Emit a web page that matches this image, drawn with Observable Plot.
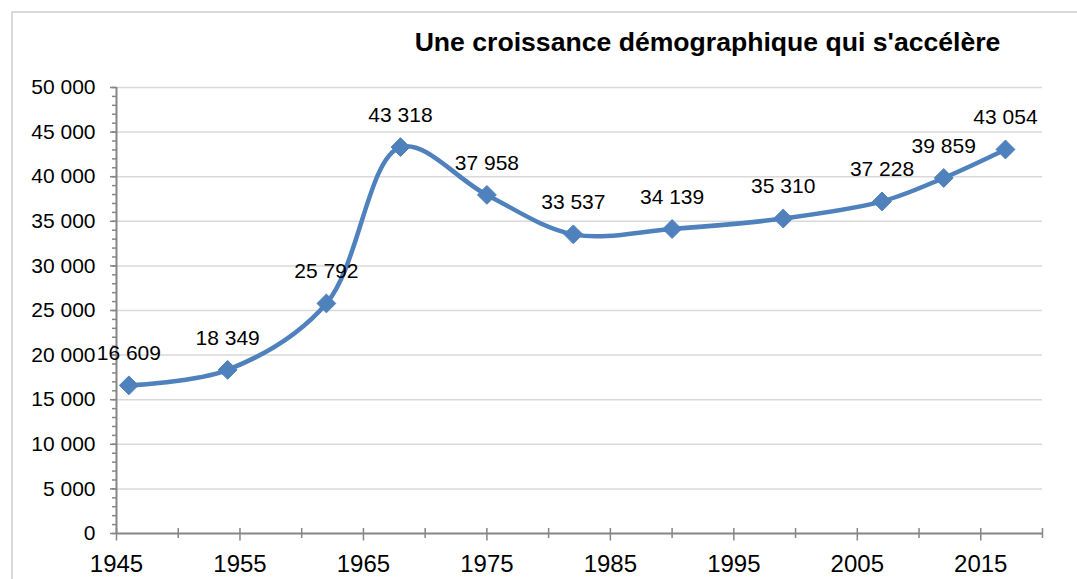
<!DOCTYPE html>
<html>
<head>
<meta charset="utf-8">
<script src="https://cdn.jsdelivr.net/npm/d3@7"></script>
<script src="https://cdn.jsdelivr.net/npm/@observablehq/plot@0.6"></script>
<style>
  html, body { margin: 0; padding: 0; background: #fff; overflow: hidden; }
  #wrap { position: relative; width: 1077px; height: 579px; }
  #border { position: absolute; left: 11px; top: 11px; width: 1200px; height: 700px;
            border: 2px solid #d9d9d9; box-sizing: border-box; }
  #chart { position: absolute; left: 0; top: 0; }
</style>
</head>
<body>
<div id="wrap"><div id="border"></div><div id="chart"></div></div>
<script>
const title = "Une croissance démographique qui s'accélère";
const years = [1946, 1954, 1962, 1968, 1975, 1982, 1990, 1999, 2007, 2012, 2017];
const population = [16609, 18349, 25792, 43318, 37958, 33537, 34139, 35310, 37228, 39859, 43054];
const yMajorTicks = [0, 5000, 10000, 15000, 20000, 25000, 30000, 35000, 40000, 45000, 50000];
const yMinorTicks = d3.range(0, 50001, 1000);
const xLabelTicks = [1945, 1955, 1965, 1975, 1985, 1995, 2005, 2015];
const xMinorTicks = [1950, 1960, 1970, 1980, 1990, 2000, 2010, 2020];

const fmt = d3.formatLocale({thousands: " ", grouping: [3], decimal: ","}).format(",d");
const data = years.map((y, i) => ({year: y, value: population[i]}));

const axisColor = "#868686";
const blue = "#4f81bd";

const chart = Plot.plot({
  width: 1077,
  height: 579,
  marginLeft: 116,
  marginRight: 35,
  marginTop: 87,
  marginBottom: 46,
  style: {fontFamily: "'Liberation Sans', Arial, sans-serif", background: "transparent", color: "#000"},
  x: {domain: [1945, 2020]},
  y: {domain: [0, 50000]},
  marks: [
    Plot.ruleY(yMajorTicks.filter(d => d > 0), {stroke: "#d9d9d9", strokeWidth: 1.5}),
    Plot.axisY({ticks: yMinorTicks, tickSize: 4, tickFormat: () => "", stroke: axisColor, strokeWidth: 1.5, label: null}),
    Plot.axisY({ticks: yMajorTicks, tickSize: 6, tickPadding: 15, tickFormat: fmt, fontSize: 21,
                stroke: axisColor, strokeWidth: 1.5, fill: "#000", label: null}),
    Plot.ruleX([1945], {stroke: axisColor, strokeWidth: 2}),
    Plot.ruleY([0], {stroke: axisColor, strokeWidth: 2}),
    Plot.axisX({ticks: xMinorTicks, tickSize: 10, dy: -5, tickFormat: () => "", stroke: axisColor, strokeWidth: 1.5, label: null}),
    Plot.axisX({ticks: xLabelTicks, tickSize: 12.5, dy: -5, tickFormat: () => "", stroke: axisColor, strokeWidth: 1.5, label: null}),
    Plot.axisX({ticks: xLabelTicks, tickSize: 0, tickPadding: 21, tickFormat: d => String(d), fontSize: 24, fill: "#000", label: null}),
    Plot.line(data, {x: "year", y: "value", curve: "catmull-rom", stroke: blue, strokeWidth: 4.5}),
    Plot.dot(data, {x: "year", y: "value", symbol: "diamond2", r: 8.5, fill: blue, stroke: blue, strokeWidth: 1}),
    Plot.text(data, {x: "year", y: "value", text: d => fmt(d.value), dy: -32, fontSize: 21, fill: "#000", textAnchor: "middle"}),
    Plot.text([title], {frameAnchor: "top", lineAnchor: "middle", dx: 128, dy: -45, fontSize: 26.6, fontWeight: "bold", fill: "#000", textAnchor: "middle"})
  ]
});
document.getElementById("chart").appendChild(chart);
</script>
</body>
</html>
